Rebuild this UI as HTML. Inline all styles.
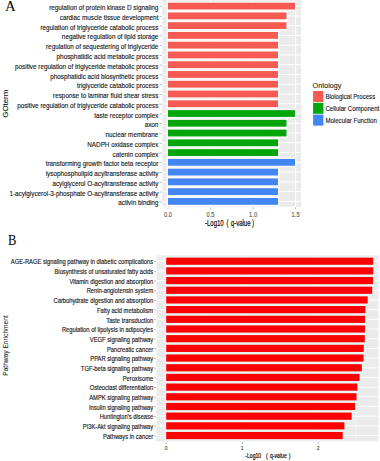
<!DOCTYPE html>
<html><head><meta charset="utf-8"><style>
html,body{margin:0;padding:0;background:#fff;}
body{width:380px;height:461px;overflow:hidden;}
svg{display:block;font-family:"Liberation Sans", sans-serif;}
</style></head><body>
<svg width="380" height="461" viewBox="0 0 380 461">
<rect width="380" height="461" fill="#fff"/>
<rect x="162.3" y="0.0" width="138.90" height="206.80" fill="#EBEBEB"/>
<rect x="188.97" y="0.0" width="0.6" height="206.80" fill="#F7F7F7"/>
<rect x="231.50" y="0.0" width="0.6" height="206.80" fill="#F7F7F7"/>
<rect x="274.04" y="0.0" width="0.6" height="206.80" fill="#F7F7F7"/>
<rect x="167.50" y="0.0" width="1" height="206.80" fill="#FFFFFF"/>
<rect x="210.03" y="0.0" width="1" height="206.80" fill="#FFFFFF"/>
<rect x="252.57" y="0.0" width="1" height="206.80" fill="#FFFFFF"/>
<rect x="295.11" y="0.0" width="1" height="206.80" fill="#FFFFFF"/>
<rect x="162.3" y="5.59" width="138.90" height="1" fill="#FFFFFF"/>
<rect x="162.3" y="15.36" width="138.90" height="1" fill="#FFFFFF"/>
<rect x="162.3" y="25.12" width="138.90" height="1" fill="#FFFFFF"/>
<rect x="162.3" y="34.89" width="138.90" height="1" fill="#FFFFFF"/>
<rect x="162.3" y="44.65" width="138.90" height="1" fill="#FFFFFF"/>
<rect x="162.3" y="54.42" width="138.90" height="1" fill="#FFFFFF"/>
<rect x="162.3" y="64.18" width="138.90" height="1" fill="#FFFFFF"/>
<rect x="162.3" y="73.95" width="138.90" height="1" fill="#FFFFFF"/>
<rect x="162.3" y="83.71" width="138.90" height="1" fill="#FFFFFF"/>
<rect x="162.3" y="93.48" width="138.90" height="1" fill="#FFFFFF"/>
<rect x="162.3" y="103.24" width="138.90" height="1" fill="#FFFFFF"/>
<rect x="162.3" y="113.01" width="138.90" height="1" fill="#FFFFFF"/>
<rect x="162.3" y="122.77" width="138.90" height="1" fill="#FFFFFF"/>
<rect x="162.3" y="132.53" width="138.90" height="1" fill="#FFFFFF"/>
<rect x="162.3" y="142.30" width="138.90" height="1" fill="#FFFFFF"/>
<rect x="162.3" y="152.07" width="138.90" height="1" fill="#FFFFFF"/>
<rect x="162.3" y="161.83" width="138.90" height="1" fill="#FFFFFF"/>
<rect x="162.3" y="171.59" width="138.90" height="1" fill="#FFFFFF"/>
<rect x="162.3" y="181.36" width="138.90" height="1" fill="#FFFFFF"/>
<rect x="162.3" y="191.13" width="138.90" height="1" fill="#FFFFFF"/>
<rect x="162.3" y="200.89" width="138.90" height="1" fill="#FFFFFF"/>
<rect x="166.50" y="1.31" width="130.00" height="9.57" fill="#FBFBFB"/>
<rect x="168.00" y="2.69" width="127.00" height="6.80" fill="#F65A52"/>
<rect x="166.50" y="11.07" width="121.50" height="9.57" fill="#FBFBFB"/>
<rect x="168.00" y="12.46" width="118.50" height="6.80" fill="#F65A52"/>
<rect x="166.50" y="20.84" width="121.50" height="9.57" fill="#FBFBFB"/>
<rect x="168.00" y="22.22" width="118.50" height="6.80" fill="#F65A52"/>
<rect x="166.50" y="30.60" width="113.00" height="9.57" fill="#FBFBFB"/>
<rect x="168.00" y="31.99" width="110.00" height="6.80" fill="#F65A52"/>
<rect x="166.50" y="40.37" width="113.00" height="9.57" fill="#FBFBFB"/>
<rect x="168.00" y="41.75" width="110.00" height="6.80" fill="#F65A52"/>
<rect x="166.50" y="50.13" width="113.00" height="9.57" fill="#FBFBFB"/>
<rect x="168.00" y="51.52" width="110.00" height="6.80" fill="#F65A52"/>
<rect x="166.50" y="59.90" width="113.00" height="9.57" fill="#FBFBFB"/>
<rect x="168.00" y="61.28" width="110.00" height="6.80" fill="#F65A52"/>
<rect x="166.50" y="69.66" width="113.00" height="9.57" fill="#FBFBFB"/>
<rect x="168.00" y="71.05" width="110.00" height="6.80" fill="#F65A52"/>
<rect x="166.50" y="79.43" width="113.00" height="9.57" fill="#FBFBFB"/>
<rect x="168.00" y="80.81" width="110.00" height="6.80" fill="#F65A52"/>
<rect x="166.50" y="89.19" width="113.00" height="9.57" fill="#FBFBFB"/>
<rect x="168.00" y="90.58" width="110.00" height="6.80" fill="#F65A52"/>
<rect x="166.50" y="98.96" width="113.00" height="9.57" fill="#FBFBFB"/>
<rect x="168.00" y="100.34" width="110.00" height="6.80" fill="#F65A52"/>
<rect x="166.50" y="108.72" width="130.00" height="9.57" fill="#FBFBFB"/>
<rect x="168.00" y="110.11" width="127.00" height="6.80" fill="#05A50C"/>
<rect x="166.50" y="118.49" width="121.50" height="9.57" fill="#FBFBFB"/>
<rect x="168.00" y="119.87" width="118.50" height="6.80" fill="#05A50C"/>
<rect x="166.50" y="128.25" width="121.50" height="9.57" fill="#FBFBFB"/>
<rect x="168.00" y="129.63" width="118.50" height="6.80" fill="#05A50C"/>
<rect x="166.50" y="138.02" width="113.00" height="9.57" fill="#FBFBFB"/>
<rect x="168.00" y="139.40" width="110.00" height="6.80" fill="#05A50C"/>
<rect x="166.50" y="147.78" width="113.00" height="9.57" fill="#FBFBFB"/>
<rect x="168.00" y="149.17" width="110.00" height="6.80" fill="#05A50C"/>
<rect x="166.50" y="157.55" width="130.00" height="9.57" fill="#FBFBFB"/>
<rect x="168.00" y="158.93" width="127.00" height="6.80" fill="#4286F4"/>
<rect x="166.50" y="167.31" width="113.00" height="9.57" fill="#FBFBFB"/>
<rect x="168.00" y="168.69" width="110.00" height="6.80" fill="#4286F4"/>
<rect x="166.50" y="177.08" width="113.00" height="9.57" fill="#FBFBFB"/>
<rect x="168.00" y="178.46" width="110.00" height="6.80" fill="#4286F4"/>
<rect x="166.50" y="186.84" width="113.00" height="9.57" fill="#FBFBFB"/>
<rect x="168.00" y="188.23" width="110.00" height="6.80" fill="#4286F4"/>
<rect x="166.50" y="196.61" width="113.00" height="9.57" fill="#FBFBFB"/>
<rect x="168.00" y="197.99" width="110.00" height="6.80" fill="#4286F4"/>
<text transform="translate(158.40,10.19) scale(1,1.2)" font-size="6.34" text-anchor="end" fill="#1A1A1A" stroke="#1A1A1A" stroke-width="0.13">regulation of protein kinase D signaling</text>
<rect x="159.6" y="6.14" width="2.00" height="0.7" fill="#9A9A9A"/>
<text transform="translate(158.40,19.95) scale(1,1.2)" font-size="6.34" text-anchor="end" fill="#1A1A1A" stroke="#1A1A1A" stroke-width="0.13">cardiac muscle tissue development</text>
<rect x="159.6" y="15.91" width="2.00" height="0.7" fill="#9A9A9A"/>
<text transform="translate(158.40,29.72) scale(1,1.2)" font-size="6.34" text-anchor="end" fill="#1A1A1A" stroke="#1A1A1A" stroke-width="0.13">regulation of triglyceride catabolic process</text>
<rect x="159.6" y="25.67" width="2.00" height="0.7" fill="#9A9A9A"/>
<text transform="translate(158.40,39.49) scale(1,1.2)" font-size="6.34" text-anchor="end" fill="#1A1A1A" stroke="#1A1A1A" stroke-width="0.13">negative regulation of lipid storage</text>
<rect x="159.6" y="35.44" width="2.00" height="0.7" fill="#9A9A9A"/>
<text transform="translate(158.40,49.25) scale(1,1.2)" font-size="6.34" text-anchor="end" fill="#1A1A1A" stroke="#1A1A1A" stroke-width="0.13">regulation of sequestering of triglyceride</text>
<rect x="159.6" y="45.20" width="2.00" height="0.7" fill="#9A9A9A"/>
<text transform="translate(158.40,59.02) scale(1,1.2)" font-size="6.34" text-anchor="end" fill="#1A1A1A" stroke="#1A1A1A" stroke-width="0.13">phosphatidic acid metabolic process</text>
<rect x="159.6" y="54.97" width="2.00" height="0.7" fill="#9A9A9A"/>
<text transform="translate(158.40,68.78) scale(1,1.2)" font-size="6.34" text-anchor="end" fill="#1A1A1A" stroke="#1A1A1A" stroke-width="0.13">positive regulation of triglyceride metabolic process</text>
<rect x="159.6" y="64.73" width="2.00" height="0.7" fill="#9A9A9A"/>
<text transform="translate(158.40,78.55) scale(1,1.2)" font-size="6.34" text-anchor="end" fill="#1A1A1A" stroke="#1A1A1A" stroke-width="0.13">phosphatidic acid biosynthetic process</text>
<rect x="159.6" y="74.50" width="2.00" height="0.7" fill="#9A9A9A"/>
<text transform="translate(158.40,88.31) scale(1,1.2)" font-size="6.34" text-anchor="end" fill="#1A1A1A" stroke="#1A1A1A" stroke-width="0.13">triglyceride catabolic process</text>
<rect x="159.6" y="84.26" width="2.00" height="0.7" fill="#9A9A9A"/>
<text transform="translate(158.40,98.08) scale(1,1.2)" font-size="6.34" text-anchor="end" fill="#1A1A1A" stroke="#1A1A1A" stroke-width="0.13">response to laminar fluid shear stress</text>
<rect x="159.6" y="94.03" width="2.00" height="0.7" fill="#9A9A9A"/>
<text transform="translate(158.40,107.84) scale(1,1.2)" font-size="6.34" text-anchor="end" fill="#1A1A1A" stroke="#1A1A1A" stroke-width="0.13">positive regulation of triglyceride catabolic process</text>
<rect x="159.6" y="103.79" width="2.00" height="0.7" fill="#9A9A9A"/>
<text transform="translate(158.40,117.61) scale(1,1.2)" font-size="6.34" text-anchor="end" fill="#1A1A1A" stroke="#1A1A1A" stroke-width="0.13">taste receptor complex</text>
<rect x="159.6" y="113.56" width="2.00" height="0.7" fill="#9A9A9A"/>
<text transform="translate(158.40,127.37) scale(1,1.2)" font-size="6.34" text-anchor="end" fill="#1A1A1A" stroke="#1A1A1A" stroke-width="0.13">axon</text>
<rect x="159.6" y="123.32" width="2.00" height="0.7" fill="#9A9A9A"/>
<text transform="translate(158.40,137.13) scale(1,1.2)" font-size="6.34" text-anchor="end" fill="#1A1A1A" stroke="#1A1A1A" stroke-width="0.13">nuclear membrane</text>
<rect x="159.6" y="133.09" width="2.00" height="0.7" fill="#9A9A9A"/>
<text transform="translate(158.40,146.90) scale(1,1.2)" font-size="6.34" text-anchor="end" fill="#1A1A1A" stroke="#1A1A1A" stroke-width="0.13">NADPH oxidase complex</text>
<rect x="159.6" y="142.85" width="2.00" height="0.7" fill="#9A9A9A"/>
<text transform="translate(158.40,156.67) scale(1,1.2)" font-size="6.34" text-anchor="end" fill="#1A1A1A" stroke="#1A1A1A" stroke-width="0.13">catenin complex</text>
<rect x="159.6" y="152.62" width="2.00" height="0.7" fill="#9A9A9A"/>
<text transform="translate(158.40,166.43) scale(1,1.2)" font-size="6.34" text-anchor="end" fill="#1A1A1A" stroke="#1A1A1A" stroke-width="0.13">transforming growth factor beta receptor</text>
<rect x="159.6" y="162.38" width="2.00" height="0.7" fill="#9A9A9A"/>
<text transform="translate(158.40,176.19) scale(1,1.2)" font-size="6.34" text-anchor="end" fill="#1A1A1A" stroke="#1A1A1A" stroke-width="0.13">lysophospholipid acyltransferase activity</text>
<rect x="159.6" y="172.15" width="2.00" height="0.7" fill="#9A9A9A"/>
<text transform="translate(158.40,185.96) scale(1,1.2)" font-size="6.34" text-anchor="end" fill="#1A1A1A" stroke="#1A1A1A" stroke-width="0.13">acylglycerol O-acyltransferase activity</text>
<rect x="159.6" y="181.91" width="2.00" height="0.7" fill="#9A9A9A"/>
<text transform="translate(158.40,195.73) scale(1,1.2)" font-size="6.34" text-anchor="end" fill="#1A1A1A" stroke="#1A1A1A" stroke-width="0.13">1-acylglycerol-3-phosphate O-acyltransferase activity</text>
<rect x="159.6" y="191.68" width="2.00" height="0.7" fill="#9A9A9A"/>
<text transform="translate(158.40,205.49) scale(1,1.2)" font-size="6.34" text-anchor="end" fill="#1A1A1A" stroke="#1A1A1A" stroke-width="0.13">activin binding</text>
<rect x="159.6" y="201.44" width="2.00" height="0.7" fill="#9A9A9A"/>
<rect x="167.65" y="207.40" width="0.7" height="1.8" fill="#9A9A9A"/>
<text transform="translate(168.00,216.60) scale(1,1.25)" font-size="5.8" text-anchor="middle" fill="#555555" stroke="#555555" stroke-width="0.1">0.0</text>
<rect x="210.19" y="207.40" width="0.7" height="1.8" fill="#9A9A9A"/>
<text transform="translate(210.53,216.60) scale(1,1.25)" font-size="5.8" text-anchor="middle" fill="#555555" stroke="#555555" stroke-width="0.1">0.5</text>
<rect x="252.72" y="207.40" width="0.7" height="1.8" fill="#9A9A9A"/>
<text transform="translate(253.07,216.60) scale(1,1.25)" font-size="5.8" text-anchor="middle" fill="#555555" stroke="#555555" stroke-width="0.1">1.0</text>
<rect x="295.25" y="207.40" width="0.7" height="1.8" fill="#9A9A9A"/>
<text transform="translate(295.61,216.60) scale(1,1.25)" font-size="5.8" text-anchor="middle" fill="#555555" stroke="#555555" stroke-width="0.1">1.5</text>
<rect x="156.4" y="255.4" width="222.30" height="186.00" fill="#EBEBEB"/>
<rect x="203.90" y="255.4" width="0.6" height="186.00" fill="#F7F7F7"/>
<rect x="279.90" y="255.4" width="0.6" height="186.00" fill="#F7F7F7"/>
<rect x="355.90" y="255.4" width="0.6" height="186.00" fill="#F7F7F7"/>
<rect x="165.70" y="255.4" width="1" height="186.00" fill="#FFFFFF"/>
<rect x="241.70" y="255.4" width="1" height="186.00" fill="#FFFFFF"/>
<rect x="317.70" y="255.4" width="1" height="186.00" fill="#FFFFFF"/>
<rect x="156.4" y="260.70" width="222.30" height="1" fill="#FFFFFF"/>
<rect x="156.4" y="270.39" width="222.30" height="1" fill="#FFFFFF"/>
<rect x="156.4" y="280.07" width="222.30" height="1" fill="#FFFFFF"/>
<rect x="156.4" y="289.76" width="222.30" height="1" fill="#FFFFFF"/>
<rect x="156.4" y="299.44" width="222.30" height="1" fill="#FFFFFF"/>
<rect x="156.4" y="309.13" width="222.30" height="1" fill="#FFFFFF"/>
<rect x="156.4" y="318.82" width="222.30" height="1" fill="#FFFFFF"/>
<rect x="156.4" y="328.50" width="222.30" height="1" fill="#FFFFFF"/>
<rect x="156.4" y="338.19" width="222.30" height="1" fill="#FFFFFF"/>
<rect x="156.4" y="347.87" width="222.30" height="1" fill="#FFFFFF"/>
<rect x="156.4" y="357.56" width="222.30" height="1" fill="#FFFFFF"/>
<rect x="156.4" y="367.25" width="222.30" height="1" fill="#FFFFFF"/>
<rect x="156.4" y="376.93" width="222.30" height="1" fill="#FFFFFF"/>
<rect x="156.4" y="386.62" width="222.30" height="1" fill="#FFFFFF"/>
<rect x="156.4" y="396.30" width="222.30" height="1" fill="#FFFFFF"/>
<rect x="156.4" y="405.99" width="222.30" height="1" fill="#FFFFFF"/>
<rect x="156.4" y="415.68" width="222.30" height="1" fill="#FFFFFF"/>
<rect x="156.4" y="425.36" width="222.30" height="1" fill="#FFFFFF"/>
<rect x="156.4" y="435.05" width="222.30" height="1" fill="#FFFFFF"/>
<rect x="164.70" y="256.46" width="210.00" height="9.49" fill="#E6F8F8"/>
<rect x="166.20" y="257.60" width="207.00" height="7.20" fill="#FF0000"/>
<rect x="164.70" y="266.14" width="210.00" height="9.49" fill="#E6F8F8"/>
<rect x="166.20" y="267.29" width="207.00" height="7.20" fill="#FF0000"/>
<rect x="164.70" y="275.83" width="209.80" height="9.49" fill="#E6F8F8"/>
<rect x="166.20" y="276.97" width="206.80" height="7.20" fill="#FF0000"/>
<rect x="164.70" y="285.51" width="209.00" height="9.49" fill="#E6F8F8"/>
<rect x="166.20" y="286.66" width="206.00" height="7.20" fill="#FF0000"/>
<rect x="164.70" y="295.20" width="204.50" height="9.49" fill="#E6F8F8"/>
<rect x="166.20" y="296.34" width="201.50" height="7.20" fill="#FF0000"/>
<rect x="164.70" y="304.89" width="202.20" height="9.49" fill="#E6F8F8"/>
<rect x="166.20" y="306.03" width="199.20" height="7.20" fill="#FF0000"/>
<rect x="164.70" y="314.57" width="201.80" height="9.49" fill="#E6F8F8"/>
<rect x="166.20" y="315.72" width="198.80" height="7.20" fill="#FF0000"/>
<rect x="164.70" y="324.26" width="201.80" height="9.49" fill="#E6F8F8"/>
<rect x="166.20" y="325.40" width="198.80" height="7.20" fill="#FF0000"/>
<rect x="164.70" y="333.94" width="201.60" height="9.49" fill="#E6F8F8"/>
<rect x="166.20" y="335.09" width="198.60" height="7.20" fill="#FF0000"/>
<rect x="164.70" y="343.63" width="200.60" height="9.49" fill="#E6F8F8"/>
<rect x="166.20" y="344.77" width="197.60" height="7.20" fill="#FF0000"/>
<rect x="164.70" y="353.32" width="200.40" height="9.49" fill="#E6F8F8"/>
<rect x="166.20" y="354.46" width="197.40" height="7.20" fill="#FF0000"/>
<rect x="164.70" y="363.00" width="198.60" height="9.49" fill="#E6F8F8"/>
<rect x="166.20" y="364.15" width="195.60" height="7.20" fill="#FF0000"/>
<rect x="164.70" y="372.69" width="196.40" height="9.49" fill="#E6F8F8"/>
<rect x="166.20" y="373.83" width="193.40" height="7.20" fill="#FF0000"/>
<rect x="164.70" y="382.38" width="194.10" height="9.49" fill="#E6F8F8"/>
<rect x="166.20" y="383.52" width="191.10" height="7.20" fill="#FF0000"/>
<rect x="164.70" y="392.06" width="193.30" height="9.49" fill="#E6F8F8"/>
<rect x="166.20" y="393.20" width="190.30" height="7.20" fill="#FF0000"/>
<rect x="164.70" y="401.75" width="191.80" height="9.49" fill="#E6F8F8"/>
<rect x="166.20" y="402.89" width="188.80" height="7.20" fill="#FF0000"/>
<rect x="164.70" y="411.43" width="188.50" height="9.49" fill="#E6F8F8"/>
<rect x="166.20" y="412.58" width="185.50" height="7.20" fill="#FF0000"/>
<rect x="164.70" y="421.12" width="181.20" height="9.49" fill="#E6F8F8"/>
<rect x="166.20" y="422.26" width="178.20" height="7.20" fill="#FF0000"/>
<rect x="164.70" y="430.81" width="179.50" height="9.49" fill="#E6F8F8"/>
<rect x="166.20" y="431.95" width="176.50" height="7.20" fill="#FF0000"/>
<text transform="translate(153.20,264.40) scale(1,1.25)" font-size="5.8" text-anchor="end" fill="#1A1A1A" stroke="#1A1A1A" stroke-width="0.13">AGE-RAGE signaling pathway in diabetic complications</text>
<rect x="154.2" y="261.25" width="1.80" height="0.7" fill="#9A9A9A"/>
<text transform="translate(153.20,274.09) scale(1,1.25)" font-size="5.8" text-anchor="end" fill="#1A1A1A" stroke="#1A1A1A" stroke-width="0.13">Biosynthesis of unsaturated fatty acids</text>
<rect x="154.2" y="270.94" width="1.80" height="0.7" fill="#9A9A9A"/>
<text transform="translate(153.20,283.77) scale(1,1.25)" font-size="5.8" text-anchor="end" fill="#1A1A1A" stroke="#1A1A1A" stroke-width="0.13">Vitamin digestion and absorption</text>
<rect x="154.2" y="280.62" width="1.80" height="0.7" fill="#9A9A9A"/>
<text transform="translate(153.20,293.46) scale(1,1.25)" font-size="5.8" text-anchor="end" fill="#1A1A1A" stroke="#1A1A1A" stroke-width="0.13">Renin-angiotensin system</text>
<rect x="154.2" y="290.31" width="1.80" height="0.7" fill="#9A9A9A"/>
<text transform="translate(153.20,303.14) scale(1,1.25)" font-size="5.8" text-anchor="end" fill="#1A1A1A" stroke="#1A1A1A" stroke-width="0.13">Carbohydrate digestion and absorption</text>
<rect x="154.2" y="299.99" width="1.80" height="0.7" fill="#9A9A9A"/>
<text transform="translate(153.20,312.83) scale(1,1.25)" font-size="5.8" text-anchor="end" fill="#1A1A1A" stroke="#1A1A1A" stroke-width="0.13">Fatty acid metabolism</text>
<rect x="154.2" y="309.68" width="1.80" height="0.7" fill="#9A9A9A"/>
<text transform="translate(153.20,322.52) scale(1,1.25)" font-size="5.8" text-anchor="end" fill="#1A1A1A" stroke="#1A1A1A" stroke-width="0.13">Taste transduction</text>
<rect x="154.2" y="319.37" width="1.80" height="0.7" fill="#9A9A9A"/>
<text transform="translate(153.20,332.20) scale(1,1.25)" font-size="5.8" text-anchor="end" fill="#1A1A1A" stroke="#1A1A1A" stroke-width="0.13">Regulation of lipolysis in adipocytes</text>
<rect x="154.2" y="329.05" width="1.80" height="0.7" fill="#9A9A9A"/>
<text transform="translate(153.20,341.89) scale(1,1.25)" font-size="5.8" text-anchor="end" fill="#1A1A1A" stroke="#1A1A1A" stroke-width="0.13">VEGF signaling pathway</text>
<rect x="154.2" y="338.74" width="1.80" height="0.7" fill="#9A9A9A"/>
<text transform="translate(153.20,351.57) scale(1,1.25)" font-size="5.8" text-anchor="end" fill="#1A1A1A" stroke="#1A1A1A" stroke-width="0.13">Pancreatic cancer</text>
<rect x="154.2" y="348.42" width="1.80" height="0.7" fill="#9A9A9A"/>
<text transform="translate(153.20,361.26) scale(1,1.25)" font-size="5.8" text-anchor="end" fill="#1A1A1A" stroke="#1A1A1A" stroke-width="0.13">PPAR signaling pathway</text>
<rect x="154.2" y="358.11" width="1.80" height="0.7" fill="#9A9A9A"/>
<text transform="translate(153.20,370.95) scale(1,1.25)" font-size="5.8" text-anchor="end" fill="#1A1A1A" stroke="#1A1A1A" stroke-width="0.13">TGF-beta signaling pathway</text>
<rect x="154.2" y="367.80" width="1.80" height="0.7" fill="#9A9A9A"/>
<text transform="translate(153.20,380.63) scale(1,1.25)" font-size="5.8" text-anchor="end" fill="#1A1A1A" stroke="#1A1A1A" stroke-width="0.13">Peroxisome</text>
<rect x="154.2" y="377.48" width="1.80" height="0.7" fill="#9A9A9A"/>
<text transform="translate(153.20,390.32) scale(1,1.25)" font-size="5.8" text-anchor="end" fill="#1A1A1A" stroke="#1A1A1A" stroke-width="0.13">Osteoclast differentiation</text>
<rect x="154.2" y="387.17" width="1.80" height="0.7" fill="#9A9A9A"/>
<text transform="translate(153.20,400.00) scale(1,1.25)" font-size="5.8" text-anchor="end" fill="#1A1A1A" stroke="#1A1A1A" stroke-width="0.13">AMPK signaling pathway</text>
<rect x="154.2" y="396.85" width="1.80" height="0.7" fill="#9A9A9A"/>
<text transform="translate(153.20,409.69) scale(1,1.25)" font-size="5.8" text-anchor="end" fill="#1A1A1A" stroke="#1A1A1A" stroke-width="0.13">Insulin signaling pathway</text>
<rect x="154.2" y="406.54" width="1.80" height="0.7" fill="#9A9A9A"/>
<text transform="translate(153.20,419.38) scale(1,1.25)" font-size="5.8" text-anchor="end" fill="#1A1A1A" stroke="#1A1A1A" stroke-width="0.13">Huntington's disease</text>
<rect x="154.2" y="416.23" width="1.80" height="0.7" fill="#9A9A9A"/>
<text transform="translate(153.20,429.06) scale(1,1.25)" font-size="5.8" text-anchor="end" fill="#1A1A1A" stroke="#1A1A1A" stroke-width="0.13">PI3K-Akt signaling pathway</text>
<rect x="154.2" y="425.91" width="1.80" height="0.7" fill="#9A9A9A"/>
<text transform="translate(153.20,438.75) scale(1,1.25)" font-size="5.8" text-anchor="end" fill="#1A1A1A" stroke="#1A1A1A" stroke-width="0.13">Pathways in cancer</text>
<rect x="154.2" y="435.60" width="1.80" height="0.7" fill="#9A9A9A"/>
<rect x="165.85" y="442.00" width="0.7" height="1.8" fill="#9A9A9A"/>
<text transform="translate(166.20,449.60) scale(1,1.25)" font-size="5.0" text-anchor="middle" fill="#444444" stroke="#444444" stroke-width="0.1">0</text>
<rect x="241.85" y="442.00" width="0.7" height="1.8" fill="#9A9A9A"/>
<text transform="translate(242.20,449.60) scale(1,1.25)" font-size="5.0" text-anchor="middle" fill="#444444" stroke="#444444" stroke-width="0.1">1</text>
<rect x="317.85" y="442.00" width="0.7" height="1.8" fill="#9A9A9A"/>
<text transform="translate(318.20,449.60) scale(1,1.25)" font-size="5.0" text-anchor="middle" fill="#444444" stroke="#444444" stroke-width="0.1">2</text>
<text x="5.0" y="10.8" font-family='"Liberation Serif", serif' font-size="14.8" fill="#000">A</text>
<text transform="translate(8.0,244.8) scale(0.85,1)" font-family='"Liberation Serif", serif' font-size="14.8" fill="#000">B</text>
<text transform="translate(7.5,103.7) rotate(-90)" font-size="7.9" text-anchor="middle" fill="#111" stroke="#111" stroke-width="0.08">GOterm</text>
<text transform="translate(7.6,345.5) rotate(-90)" font-size="6.6" text-anchor="middle" fill="#1a1a1a" stroke="#1a1a1a" stroke-width="0.06">Pathway Enrichment</text>
<text transform="translate(205.00,225.60) scale(1,1.4)" font-size="6.0" text-anchor="start" fill="#000" stroke="#000" stroke-width="0.13">-Log10<tspan dx="2.8">(</tspan><tspan dx="2.4">q-value</tspan><tspan dx="1.6">)</tspan></text>
<text transform="translate(245.30,457.90) scale(1,1.35)" font-size="5.1" text-anchor="start" fill="#000" stroke="#000" stroke-width="0.13">-Log10<tspan dx="4.9">(</tspan><tspan dx="2.3">q-value</tspan><tspan dx="2.1">)</tspan></text>
<text transform="translate(312.60,88.40) scale(1,1.05)" font-size="7.2" text-anchor="start" fill="#111" stroke="#111" stroke-width="0.08">Ontology</text>
<rect x="313.1" y="91.00" width="10.3" height="11.0" fill="#F65A52"/>
<text transform="translate(325.40,99.30) scale(1,1.12)" font-size="6.1" text-anchor="start" fill="#111" stroke="#111" stroke-width="0.1">Biological Process</text>
<rect x="313.1" y="102.80" width="10.3" height="11.0" fill="#05A50C"/>
<text transform="translate(325.40,111.10) scale(1,1.12)" font-size="6.1" text-anchor="start" fill="#111" stroke="#111" stroke-width="0.1">Cellular Component</text>
<rect x="313.1" y="114.60" width="10.3" height="11.0" fill="#4286F4"/>
<text transform="translate(325.40,122.90) scale(1,1.12)" font-size="6.1" text-anchor="start" fill="#111" stroke="#111" stroke-width="0.1">Molecular Function</text>
</svg>
</body></html>
